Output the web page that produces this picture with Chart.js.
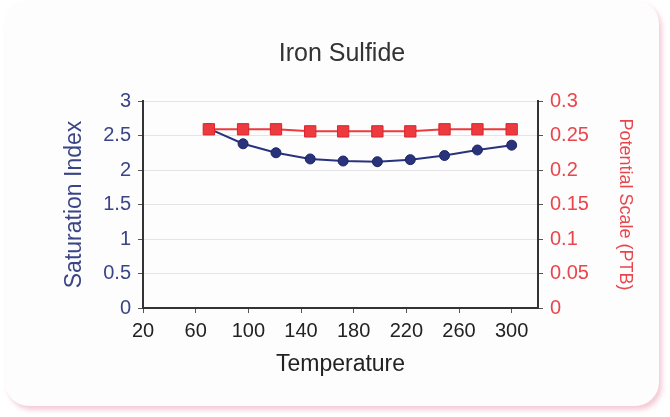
<!DOCTYPE html>
<html>
<head>
<meta charset="utf-8">
<script src="https://cdn.jsdelivr.net/npm/chart.js@4.4.1/dist/chart.umd.min.js"></script>
<style>
  html, body { margin: 0; padding: 0; background: #fff; }
  #card {
    position: absolute; left: 5px; top: 0px; width: 654px; height: 406px;
    background: #fdfdfd; border-radius: 24px;
    box-shadow: 3px 4px 5px rgba(235, 160, 180, 0.55);
  }
  #wrap { position: absolute; left: 0; top: 0; width: 670px; height: 417px; }
</style>
</head>
<body>
<div id="card"></div>
<div id="wrap"><canvas id="chart" width="670" height="417"></canvas></div>
<script>
// data
var temperature = [70, 96, 121, 147, 172, 198, 223, 249, 274, 300];
var saturationIndex = [2.6, 2.38, 2.25, 2.16, 2.13, 2.12, 2.15, 2.21, 2.29, 2.36];
var potentialScale = [0.259, 0.259, 0.259, 0.256, 0.256, 0.256, 0.256, 0.259, 0.259, 0.259];
var xTicks = [20, 60, 100, 140, 180, 220, 260, 300];

var blue = "#28337c";
var red = "#ec3a3f";
var font = "'Liberation Sans', Arial, sans-serif";

function pts(xs, ys) {
  return xs.map(function (x, i) { return { x: x, y: ys[i] }; });
}
// excel style numbers: 3, 2.5, 0.25
function plain(v) { return String(parseFloat(v.toFixed(3))); }

new Chart(document.getElementById("chart"), {
  type: 'line',
  data: {
    datasets: [
      {
        label: "Saturation Index",
        data: pts(temperature, saturationIndex),
        yAxisID: 'y',
        order: 2,
        borderColor: blue,
        backgroundColor: blue,
        borderWidth: 2,
        pointStyle: 'circle',
        pointRadius: 5,
        pointBorderWidth: 1,
        pointBorderColor: "#1c2566"
      }, {
        label: "Potential Scale (PTB)",
        data: pts(temperature, potentialScale),
        yAxisID: 'y1',
        order: 1,
        borderColor: red,
        backgroundColor: red,
        borderWidth: 2,
        pointStyle: 'rect',
        pointRadius: 8,
        pointBorderWidth: 1,
        pointBorderColor: "#d8262c"
      }
    ]
  },
  options: {
    responsive: false,
    animation: false,
    layout: { padding: { left: 52, right: 38, top: 0, bottom: 25 } },
    plugins: {
      legend: { display: false },
      tooltip: { enabled: false },
      title: {
        display: true,
        text: 'Iron Sulfide',
        color: '#333',
        font: { family: font, size: 25, weight: 'normal' },
        padding: { top: 39, bottom: 32 }
      }
    },
    scales: {
      x: {
        type: 'linear',
        min: 20,
        max: 320,
        afterBuildTicks: function (s) {
          s.ticks = xTicks.map(function (v) { return { value: v }; });
        },
        afterFit: function (s) { s.height = 84; },
        ticks: {
          color: '#222',
          font: { family: font, size: 20 },
          padding: 6,
          maxRotation: 0,
          autoSkip: false
        },
        grid: { drawOnChartArea: false, tickLength: 5, tickColor: '#555' },
        border: { color: '#333', width: 2 },
        title: {
          display: true,
          text: 'Temperature',
          color: '#222',
          font: { family: font, size: 23 },
          padding: { top: 0, bottom: 14 }
        }
      },
      y: {
        position: 'left',
        min: 0,
        max: 3,
        afterFit: function (s) { s.width = 91; },
        ticks: {
          stepSize: 0.5,
          color: '#3a4487',
          font: { family: font, size: 20 },
          padding: 7,
          callback: plain
        },
        grid: { color: '#e4e4e4', tickLength: 5, tickColor: '#555' },
        border: { color: '#333', width: 2 },
        title: {
          display: true,
          text: 'Saturation Index',
          color: '#3a4487',
          font: { family: font, size: 23 },
          padding: { top: 9, bottom: 0 }
        }
      },
      y1: {
        position: 'right',
        min: 0,
        max: 0.3,
        afterFit: function (s) { s.width = 94; },
        ticks: {
          stepSize: 0.05,
          color: '#e9464c',
          font: { family: font, size: 20 },
          padding: 7,
          callback: plain
        },
        grid: { drawOnChartArea: false, tickLength: 5, tickColor: '#555' },
        border: { color: '#333', width: 2 },
        title: {
          display: true,
          text: 'Potential Scale (PTB)',
          color: '#e9464c',
          font: { family: font, size: 18 },
          padding: { top: -4, bottom: 0 }
        }
      }
    }
  }
});
</script>
</body>
</html>
